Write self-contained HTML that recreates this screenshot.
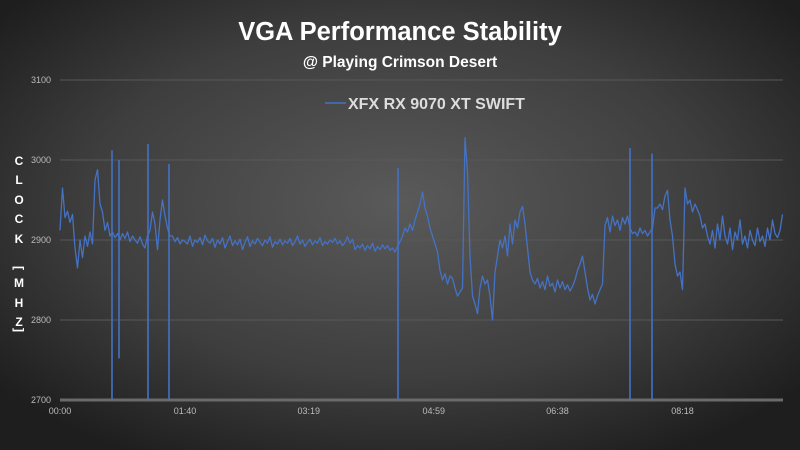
<!DOCTYPE html>
<html><head><meta charset="utf-8"><style>
html,body{margin:0;padding:0;}
body{width:800px;height:450px;overflow:hidden;background:#333;font-family:"Liberation Sans",sans-serif;}
svg{display:block;}
</style></head><body>
<svg width="800" height="450" viewBox="0 0 800 450" xmlns="http://www.w3.org/2000/svg">
<defs>
<radialGradient id="bg" cx="50%" cy="45%" r="65%">
<stop offset="0" stop-color="#5a5a5a"/><stop offset="0.6" stop-color="#3e3e3e"/><stop offset="1" stop-color="#1e1e1e"/>
</radialGradient>
</defs>
<rect width="800" height="450" fill="url(#bg)"/>
<text x="400" y="40" text-anchor="middle" fill="#fff" font-size="25.5" font-weight="bold">VGA Performance Stability</text>
<text x="400" y="67" text-anchor="middle" fill="#fff" font-size="15.5" font-weight="bold">@ Playing Crimson Desert</text>
<g>
<line x1="325" y1="103" x2="346" y2="103" stroke="#4472c4" stroke-width="1.5"/>
<text x="348" y="109" fill="#ddd" font-size="16" font-weight="bold">XFX RX 9070 XT SWIFT</text>
</g>
<g id="grid"></g>
<g id="yticks"></g>
<g id="xticks"></g>
<g fill="#fff" font-size="12" font-weight="bold" text-anchor="middle">
<text x="19" y="165">C</text><text x="19" y="184">L</text><text x="19" y="204">O</text><text x="19" y="223">C</text><text x="19" y="243">K</text>
<text x="19" y="272" transform="rotate(90 19 268)">[</text>
<text x="19" y="287">M</text><text x="19" y="307">H</text><text x="19" y="326">Z</text>
<text x="19" y="334" transform="rotate(90 19 330)">]</text>
</g>
<g id="spikes"></g>
<polyline id="series" fill="none" stroke="#4472c4" stroke-width="1.3" stroke-linejoin="round"/>
</svg>
<script>
const yTicks=[2700,2800,2900,3000,3100];
const xTickSeconds=[0,100,199,299,398,498];
const xTickLabels=["00:00","01:40","03:19","04:59","06:38","08:18"];
const sampleInterval=2;
const spikeTimes=[41.6,47.2,70.4,87.2,270.4,456,473.6];
const spikeLows=[2700,2752,2700,2700,2700,2700,2700];
const spikeHighs=[3012,3000,3020,2995,2990,3015,3008];
const clockValues=[
2912,2965,2928,2936,2922,2932,2890,2865,2900,2878,
2905,2892,2910,2895,2975,2988,2945,2935,2912,2922,
2905,2910,2903,2908,2900,2908,2902,2910,2898,2905,
2900,2896,2904,2895,2890,2905,2912,2935,2920,2888,
2925,2950,2930,2915,2905,2905,2898,2903,2895,2900,
2898,2895,2905,2892,2900,2897,2903,2894,2906,2899,
2896,2902,2891,2900,2895,2903,2890,2898,2905,2893,
2899,2894,2901,2888,2897,2904,2892,2899,2895,2902,
2897,2893,2900,2896,2904,2891,2898,2895,2901,2894,
2899,2896,2902,2893,2898,2905,2895,2900,2892,2897,
2901,2894,2899,2896,2903,2893,2898,2895,2900,2897,
2902,2895,2899,2893,2897,2904,2896,2901,2888,2893,
2890,2895,2887,2893,2889,2896,2886,2892,2888,2894,
2889,2893,2887,2890,2885,2892,2898,2905,2915,2910,
2920,2912,2925,2935,2945,2960,2940,2930,2915,2905,
2895,2885,2862,2850,2858,2845,2855,2852,2840,2830,
2835,2840,3028,2985,2880,2830,2820,2808,2840,2855,
2845,2850,2830,2800,2860,2880,2900,2890,2905,2880,
2920,2895,2925,2915,2935,2942,2920,2890,2860,2850,
2845,2852,2840,2848,2838,2855,2842,2846,2835,2850,
2840,2848,2838,2844,2836,2842,2850,2862,2870,2880,
2860,2840,2825,2832,2820,2830,2838,2845,2918,2928,
2910,2930,2918,2925,2912,2928,2920,2930,2915,2908,
2910,2905,2915,2908,2912,2905,2910,2915,2940,2940,
2945,2938,2955,2962,2925,2905,2870,2855,2860,2838,
2965,2945,2950,2935,2945,2938,2930,2915,2920,2905,
2895,2912,2890,2920,2900,2930,2905,2895,2915,2888,
2910,2900,2925,2895,2905,2890,2912,2900,2893,2915,
2898,2905,2892,2915,2900,2925,2908,2903,2912,2932];
const ns="http://www.w3.org/2000/svg";
const X0=60,X1=783,PX_PER_S=1.25;
function xScale(t){return X0+t*PX_PER_S;}
function yScale(v){return 400-(v-2700)*0.8;}
const grid=document.getElementById('grid'),yt=document.getElementById('yticks'),xt=document.getElementById('xticks');
yTicks.forEach(v=>{
  const l=document.createElementNS(ns,'line');
  
  
  l.setAttribute('x1',X0);l.setAttribute('x2',X1);l.setAttribute('y1',yScale(v));l.setAttribute('y2',yScale(v));
  l.setAttribute('stroke',v===2700?'#6a6a6a':'#585858');l.setAttribute('stroke-width',v===2700?3:1);
  grid.appendChild(l);
  const t=document.createElementNS(ns,'text');
  
  
  t.setAttribute('x',51);t.setAttribute('y',yScale(v)+3);t.setAttribute('text-anchor','end');
  t.setAttribute('fill','#bbb');t.setAttribute('font-size','9');
  t.textContent=v;yt.appendChild(t);
});
xTickSeconds.forEach((s,i)=>{
  const t=document.createElementNS(ns,'text');
  
  
  t.setAttribute('x',xScale(s));t.setAttribute('y',414);t.setAttribute('text-anchor','middle');
  t.setAttribute('fill','#bbb');t.setAttribute('font-size','9');
  t.textContent=xTickLabels[i];xt.appendChild(t);
});
const sp=document.getElementById('spikes');
spikeTimes.forEach((s,i)=>{
  const l=document.createElementNS(ns,'line');
  
  
  const x=xScale(s);
  l.setAttribute('x1',x);l.setAttribute('x2',x);
  l.setAttribute('y1',yScale(spikeLows[i]));l.setAttribute('y2',yScale(spikeHighs[i]));
  l.setAttribute('stroke','#4472c4');l.setAttribute('stroke-width','1.6');
  sp.appendChild(l);
});
document.getElementById('series').setAttribute('points',clockValues.map((v,i)=>xScale(i*sampleInterval).toFixed(1)+','+yScale(v).toFixed(1)).join(' '));
</script>
</body></html>
